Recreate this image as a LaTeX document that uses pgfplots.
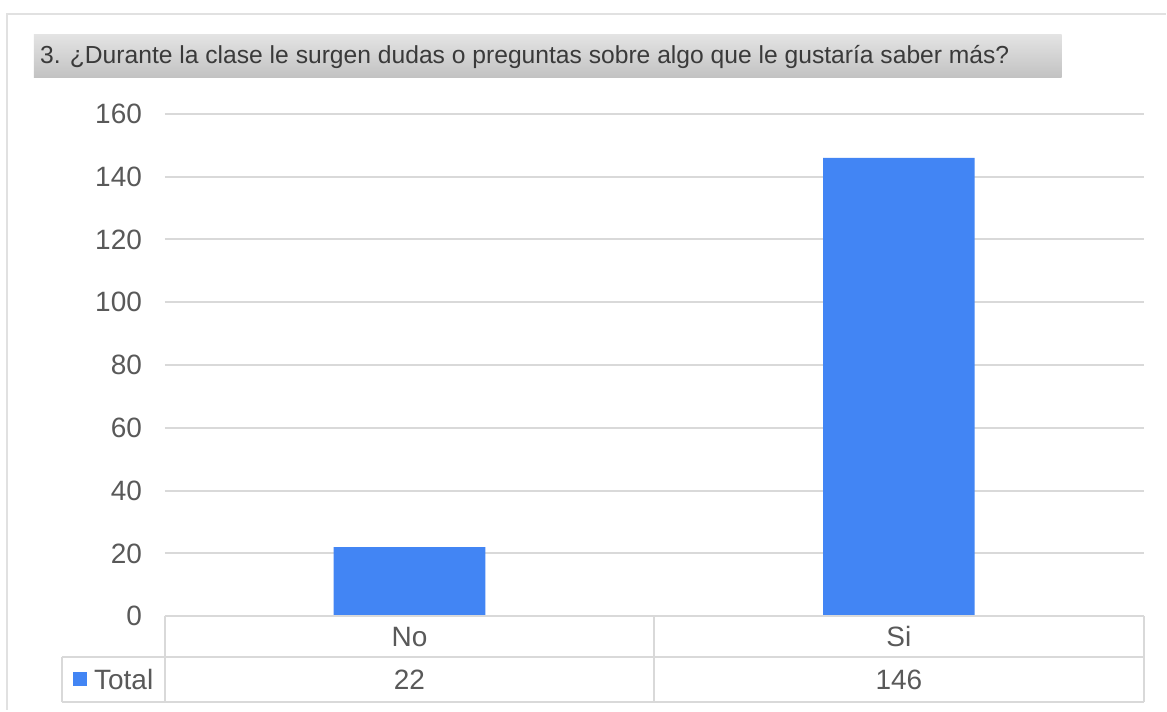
\documentclass[border=0pt]{standalone}
\usepackage{fontspec}
\setmainfont{Liberation Sans}
\usepackage{pgfplots}
\pgfplotsset{compat=1.18}
\definecolor{barblue}{HTML}{4285F4}
\definecolor{gridgray}{HTML}{D9D9D9}
\definecolor{txtgray}{HTML}{595959}
\definecolor{titletxt}{HTML}{3A3A3A}
\begin{document}
\begin{tikzpicture}[x=0.75pt,y=-0.75pt]
\fill[white] (0,0) rectangle (1167,711);
% outer frame
\draw[line width=2.2pt, color=gridgray!80] (7,711) -- (7,14) -- (1167,14);
% title bar
\shade[top color=black!11, bottom color=black!24] (34,35) rectangle (1063,78);
\node[anchor=west, inner sep=0pt, text=titletxt, font=\fontsize{18.5}{20}\selectfont] at (40,57) {3. ¿Durante la clase le surgen dudas o preguntas sobre algo que le gustaría saber más?};
\begin{axis}[
  at={(123.75pt,-462.75pt)}, anchor=south west,
  scale only axis, width=735pt, height=377.25pt,
  xmin=0, xmax=2, ymin=0, ymax=160,
  xtick=\empty,
  ytick={0,20,...,160},
  axis line style={draw=none},
  major tick style={draw=none},
  ymajorgrids,
  grid style={color=gridgray, line width=1.5pt},
  /pgf/number format/assume math mode=true,
  yticklabel style={font=\fontsize{21}{21}\selectfont, text=txtgray, inner sep=0pt, anchor=east, xshift=-17pt},
  clip=false,
]
\addplot[ybar, fill=barblue, draw=none, bar width=0.31] coordinates {(0.5,22) (1.5,146)};
\end{axis}
% data table
\begin{scope}[line width=1.5pt, color=gridgray]
\draw (165,617) -- (1145,617);
\draw (62,658) -- (1145,658);
\draw (62,703) -- (1145,703);
\draw (62,658) -- (62,703);
\draw (165,617) -- (165,703);
\draw (655,617) -- (655,703);
\draw (1145,617) -- (1145,703);
\end{scope}
\fill[barblue] (73,673) rectangle (87,687);
\begin{scope}[every node/.style={text=txtgray, font=\fontsize{21}{21}\selectfont, inner sep=0pt}]
\node at (410,637.5) {No};
\node at (900,637.5) {Si};
\node at (410,680.5) {22};
\node at (900,680.5) {146};
\node[anchor=west] at (94,680.5) {Total};
\end{scope}
\end{tikzpicture}
\end{document}
